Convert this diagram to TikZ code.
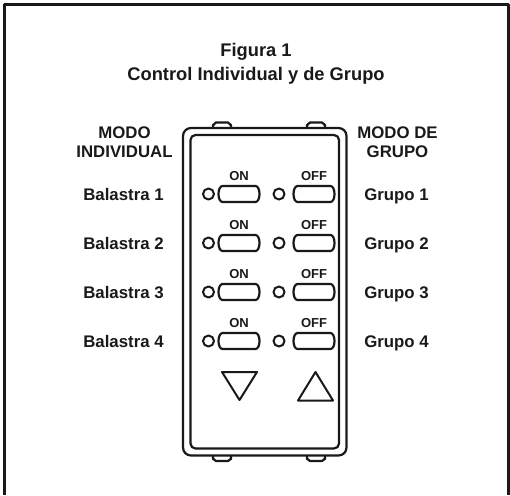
\documentclass[tikz,border=0pt]{standalone}
\usepackage{fontspec}
\setmainfont{Liberation Sans}
\usetikzlibrary{positioning}
\tikzset{
	label/.style={font=\bfseries\fontsize{16.8}{18.5}\selectfont, align=center, text=black!90, inner sep=0pt},
	small/.style={font=\bfseries\fontsize{13}{14}\selectfont, text=black!90, inner sep=0pt},
	led/.style={draw=black!90, circle, line width=2pt, minimum size=11pt, inner sep=0pt},
	body/.style={draw=black!90, line width=2.2pt},
	pics/switch/.style={code={
		\draw[body] (-16.5,-8) -- (16.5,-8) .. controls (19,-8) and (20.5,-4) .. (20.5,0) .. controls (20.5,4) and (19,8) .. (16.5,8)
			-- (-16.5,8) .. controls (-19,8) and (-20.5,4) .. (-20.5,0) .. controls (-20.5,-4) and (-19,-8) .. (-16.5,-8) -- cycle;
	}},
}
\begin{document}
\begin{tikzpicture}[x=1pt, y=-1pt, line join=round]
	\useasboundingbox (0,0) rectangle (510,495);
	% frame, open at the bottom
	\coordinate (fa) at (4.5,495);
	\coordinate (fb) at (4.5,4.5);
	\coordinate (fc) at (508.5,4.5);
	\coordinate (fd) at (508.5,495);
	\draw[draw=black!90, line width=2.6pt] (fa) -- (fb) -- (fc) -- (fd);

	\node[label, font=\bfseries\fontsize{18.3}{24}\selectfont] (title) at (256,64) {Figura 1\\Control Individual y de Grupo};
	\node[label] (modeA) at (124.5,142) {MODO\\INDIVIDUAL};
	\node[label] (modeB) at (397.5,142) {MODO DE\\GRUPO};

	% tabs
	\foreach \x/\n in {222/a, 316/b} {
		\draw[body] (\x-9,127) -- (\x-9,125) to[out=-90,in=180] (\x-6,122.5) -- (\x+6,122.5) to[out=0,in=-90] (\x+9,125) -- (\x+9,127);
		\draw[body] (\x-9,456) -- (\x-9,459) to[out=90,in=180] (\x-6,461) -- (\x+6,461) to[out=0,in=90] (\x+9,459) -- (\x+9,456);
	}
	% housing
	\draw[body, fill=white, rounded corners=8pt] (183,128) rectangle (346.5,455.5);
	\draw[body, rounded corners=5pt] (190.5,135) rectangle (339,448.5);

	% rows
	\foreach \i/\y in {1/194, 2/243, 3/292, 4/341} {
		\node[led] (ledA\i) at (208.5,\y) {};
		\pic at (239,\y) {switch};
		\coordinate (btnA\i) at (239,\y);
		\node[led] (ledB\i) at (279,\y) {};
		\pic at (314,\y) {switch};
		\coordinate (btnB\i) at (314,\y);
		\node[small, above=13pt of btnA\i] (on\i) {ON};
		\node[small, above=13pt of btnB\i] (off\i) {OFF};
		\node[label, anchor=base] (bal\i) at (123.5,\y+6) {Balastra \i};
		\node[label, anchor=base] (gru\i) at (396.5,\y+6) {Grupo \i};
	}

	% arrows
	\draw[body, line width=2pt] (222,372) -- (257,372) -- (239.5,400) -- cycle;
	\draw[body, line width=2pt] (315.5,372) -- (333,400.5) -- (298,400.5) -- cycle;
\end{tikzpicture}
\end{document}
